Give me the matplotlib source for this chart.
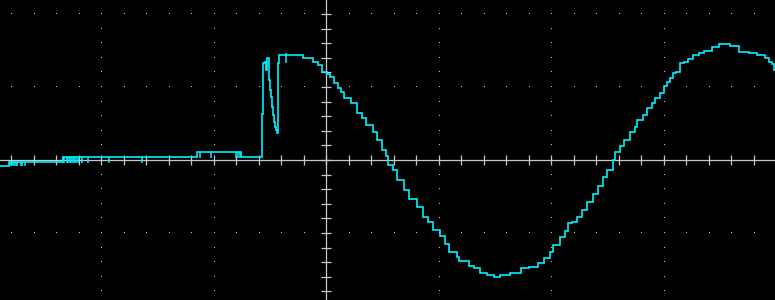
import numpy as np
import matplotlib
matplotlib.use('Agg')
import matplotlib.pyplot as plt

# trace, in divisions (x: time div, y: volts div)
# levels are held until the next sample (steps-post)
trace_t = [
    -2.898, -2.818, -2.342, -1.151, -0.756, -0.566, -0.557, -0.540, -0.533,
    -0.527, -0.509, -0.504, -0.498, -0.489, -0.480, -0.471, -0.462, -0.453,
    -0.444, -0.436, -0.429, -0.420, -0.202, -0.113, -0.068, -0.036, 0.009,
    0.036, 0.071, 0.109, 0.133, 0.163, 0.225, 0.276, 0.320, 0.356, 0.418,
    0.451, 0.495, 0.536, 0.551, 0.596, 0.631, 0.693, 0.740, 0.809, 0.862,
    0.909, 0.954, 1.013, 1.058, 1.093, 1.162, 1.185, 1.271, 1.318, 1.369,
    1.434, 1.493, 1.547, 1.638, 1.736, 1.802, 1.882, 1.940, 1.994, 2.020,
    2.080, 2.124, 2.151, 2.187, 2.231, 2.276, 2.320, 2.371, 2.418, 2.462,
    2.498, 2.548, 2.569, 2.613, 2.649, 2.702, 2.747, 2.764, 2.820, 2.853,
    2.898, 2.924, 2.969, 3.004, 3.031, 3.058, 3.084, 3.111, 3.147, 3.185,
    3.218, 3.262, 3.316, 3.360, 3.431, 3.493, 3.591, 3.671, 3.760, 3.831,
    3.905, 3.935, 3.964, 3.982, 3.991,
]
trace_v = [
    -0.082, -0.034, 0.037, 0.105, 0.037, 0.630, 1.329, 1.342, 1.233,
    1.393, 1.205, 1.096, 0.959, 0.863, 0.726, 0.616, 0.521, 0.452,
    0.411, 0.370, 1.329, 1.438, 1.397, 1.338, 1.305, 1.205, 1.178,
    1.141, 1.051, 0.982, 0.932, 0.853, 0.777, 0.640, 0.575, 0.479, 0.388,
    0.274, 0.137, 0.055, -0.068, -0.137, -0.274, -0.411, -0.538, -0.640, -0.777,
    -0.853, -0.959, -1.041, -1.155, -1.264, -1.333, -1.388, -1.448, -1.484, -1.552,
    -1.579, -1.599, -1.579, -1.552, -1.484, -1.462, -1.415, -1.338, -1.264, -1.164,
    -1.051, -0.973, -0.867, -0.845, -0.777, -0.685, -0.571, -0.466, -0.356, -0.229,
    -0.137, 0.000, 0.114, 0.192, 0.274, 0.388, 0.456, 0.548, 0.616, 0.708,
    0.777, 0.845, 0.914, 1.018, 1.073, 1.119, 1.188, 1.210, 1.325, 1.338,
    1.384, 1.438, 1.462, 1.489, 1.552, 1.585, 1.562, 1.484, 1.462, 1.438,
    1.393, 1.338, 1.311, 1.233, 1.233,
]

# short glitches on the flat parts (time, from, to)
glitch_t = [-2.809, -2.791, -2.773, -2.756, -2.744, -2.711, -2.702, -2.676,
            -2.340, -2.326, -2.305, -2.293, -2.278, -2.267, -2.252, -2.240,
            -2.225, -2.201, -2.166, -2.116, -1.929, -1.633,
            -1.123, -1.022, -0.800, -0.778, -0.764, -0.356]
glitch_hi = [-0.034] * 8 + [0.037] * 14 + [0.105] * 5 + [1.466]
glitch_lo = [-0.082] * 8 + [-0.037] * 14 + [0.034] * 5 + [1.329]

TRACE = '#00f0ff'
GRAT = '#c8c8c8'

fig = plt.figure(figsize=(7.75, 3.0), dpi=100, facecolor='black')
ax = fig.add_axes([0, 0, 1, 1])
ax.set_facecolor('black')
ax.set_xlim(-2.898, 3.991)
ax.set_ylim(-1.918, 2.192)
ax.axis('off')

# graticule: centre cross with minor ticks, dotted major lines
minor_x = np.round(np.arange(-2.8, 4.0, 0.2), 2)
minor_y = np.round(np.arange(-1.8, 2.2, 0.2), 2)
ax.axhline(0, color=GRAT, lw=0.9)
ax.axvline(0, color=GRAT, lw=0.9)
ax.plot(minor_x, np.zeros_like(minor_x), ls='none', marker='|',
        ms=6.5, mew=0.9, color=GRAT)
ax.plot(np.zeros_like(minor_y), minor_y, ls='none', marker='_',
        ms=6.5, mew=0.9, color=GRAT)

for gx in [-2, -1, 1, 2, 3]:
    ax.plot(np.full_like(minor_y, gx), minor_y, ls='none', marker=',', color=GRAT)
for gy in [-1, 1, 2]:
    ax.plot(minor_x, np.full_like(minor_x, gy), ls='none', marker=',', color=GRAT)

ax.plot(trace_t, trace_v, drawstyle='steps-post', color=TRACE, lw=1.2,
        solid_joinstyle='miter')
ax.vlines(glitch_t, glitch_lo, glitch_hi, color=TRACE, lw=1.1)

fig.savefig('out.png', dpi=100, facecolor='black')
